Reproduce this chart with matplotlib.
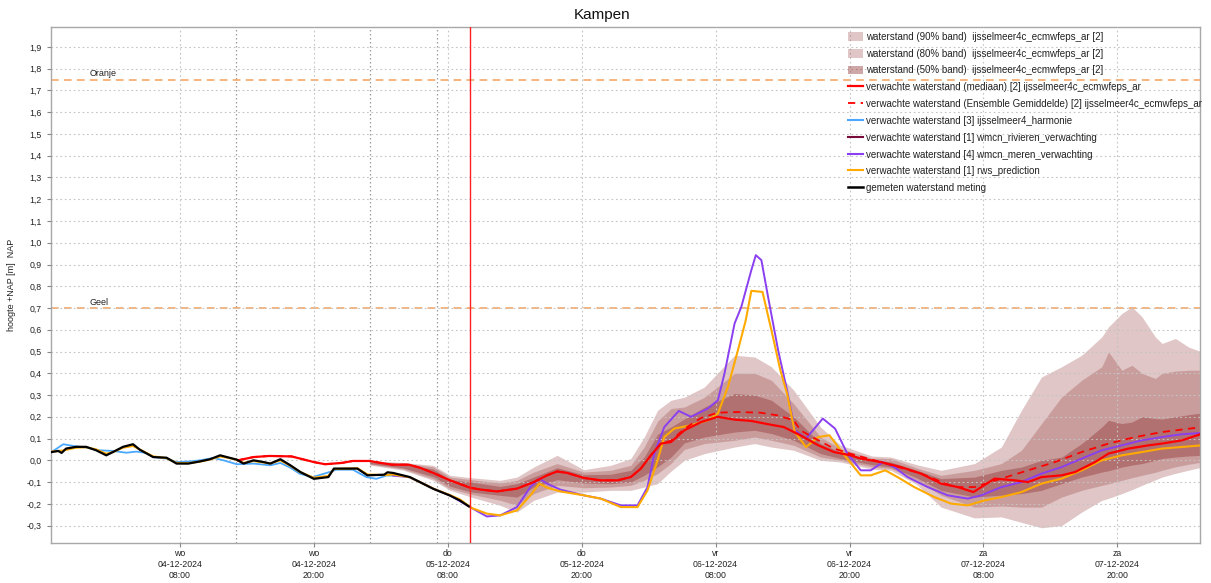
import matplotlib
matplotlib.use("Agg")
import matplotlib.pyplot as plt
from matplotlib.patches import Patch
from matplotlib.lines import Line2D
from matplotlib.ticker import FuncFormatter

plt.rcParams['font.family'] = ['Liberation Sans', 'DejaVu Sans']

# time axis: hours since 04-12-2024 08:00
x_min, x_max = -11.55, 91.4
tick_hours = [0, 12, 24, 36, 48, 60, 72, 84]
tick_labels = ["wo\n04-12-2024\n08:00", "wo\n04-12-2024\n20:00",
               "do\n05-12-2024\n08:00", "do\n05-12-2024\n20:00",
               "vr\n06-12-2024\n08:00", "vr\n06-12-2024\n20:00",
               "za\n07-12-2024\n08:00", "za\n07-12-2024\n20:00"]
now_hour = 25.97
run_hours = [5.0, 17.0, 23.0]
oranje_level = 1.75
geel_level = 0.70

# measured water level
meas_t = [-11.5, -10.9, -10.6, -10.2, -9.3, -8.4, -7.5, -6.6, -6.0, -5.1, -4.2, -3.6,
          -2.4, -1.2, -0.3, 0.75, 1.8, 2.7, 3.6, 4.5, 5.1, 5.7, 6.6, 7.5, 8.1, 9.0,
          9.9, 10.8, 12.0, 13.3, 13.8, 15.9, 16.8, 18.3, 18.6, 19.1, 20.6, 21.5,
          22.7, 24.2, 25.1, 25.9]
meas_v = [0.038, 0.043, 0.034, 0.054, 0.062, 0.062, 0.046, 0.023, 0.038, 0.062, 0.074,
          0.049, 0.015, 0.012, -0.015, -0.015, -0.005, 0.005, 0.023, 0.011, 0.003,
          -0.015, 0.0, -0.008, -0.015, 0.005, -0.023, -0.054, -0.085, -0.077, -0.038,
          -0.038, -0.069, -0.066, -0.055, -0.058, -0.077, -0.100, -0.131, -0.162,
          -0.185, -0.212]

# harmonie forecast
harm_t = [-11.5, -10.45, -9.55, -8.35, -7.2, -6.0, -4.8, -3.9, -3.0, -2.4, -1.2, -0.3,
          0.9, 1.8, 3.0, 3.9, 5.1, 6.6, 8.1, 9.0, 9.9, 10.75, 11.9, 13.4, 14.0, 15.5,
          16.7, 17.6, 18.5, 19.7]
harm_v = [0.038, 0.074, 0.066, 0.058, 0.046, 0.043, 0.035, 0.040, 0.034, 0.015, 0.008,
          -0.008, -0.005, 0.0, 0.011, 0.0, -0.018, -0.015, -0.023, -0.012, -0.034,
          -0.062, -0.077, -0.054, -0.043, -0.043, -0.077, -0.085, -0.070, -0.070]

# rws_prediction
rws_t = [-11.5, -10.5, -9.3, -8.4, -7.5, -6.6, -6.0, -5.1, -4.2, -3.6, -2.4, -1.2, -0.3,
         0.75, 1.8, 2.7, 3.6, 4.5, 5.1, 5.7, 6.6, 7.5, 8.1, 9.0, 9.9, 10.8, 12.0, 13.3,
         13.8, 15.9, 16.8, 18.3, 19.1, 20.6, 21.5, 22.7, 24.2, 25.1, 26.1, 27.5, 28.7,
         30.2, 31.4, 32.2, 32.9, 34.1, 36.2, 37.7, 39.5, 41.0, 41.9, 42.5, 42.8, 43.4,
         44.3, 45.8, 47.3, 48.2, 49.1, 50.0, 50.7, 51.2, 52.2, 53.0, 53.8, 54.4, 55.1,
         56.1, 57.2, 58.2, 59.2, 60.4, 61.0, 61.9, 63.2, 64.3, 65.8, 67.6, 69.1, 70.6,
         72.1, 73.6, 75.4, 77.2, 79.0, 80.8, 82.6, 84.4, 86.2, 88.0, 91.6]
rws_v = [0.040, 0.045, 0.058, 0.060, 0.050, 0.030, 0.038, 0.058, 0.066, 0.050, 0.018,
         0.010, -0.012, -0.013, -0.006, 0.004, 0.018, 0.010, 0.002, -0.012, -0.003,
         -0.010, -0.014, 0.0, -0.025, -0.055, -0.080, -0.072, -0.040, -0.036, -0.065,
         -0.068, -0.065, -0.078, -0.100, -0.130, -0.160, -0.180, -0.218, -0.245, -0.253,
         -0.230, -0.161, -0.107, -0.126, -0.143, -0.161, -0.176, -0.215, -0.215, -0.138,
         -0.046, 0.0, 0.107, 0.146, 0.161, 0.184, 0.215, 0.337, 0.506, 0.644, 0.779,
         0.774, 0.598, 0.414, 0.307, 0.130, 0.061, 0.107, 0.115, 0.046, -0.031, -0.069,
         -0.069, -0.046, -0.077, -0.123, -0.169, -0.199, -0.207, -0.184, -0.169, -0.146,
         -0.107, -0.084, -0.046, 0.0, 0.023, 0.038, 0.054, 0.069]

# wmcn_meren_verwachting
meren_t = [19.1, 20.6, 21.5, 22.7, 24.2, 26.1, 27.5, 28.7, 30.2, 31.4, 32.2, 32.9, 34.1,
           36.2, 37.7, 39.5, 41.0, 41.9, 42.5, 43.4, 44.7, 45.8, 47.3, 48.2, 48.8, 49.7,
           50.3, 51.2, 51.6, 52.1, 52.7, 53.6, 54.4, 55.1, 56.1, 57.6, 58.7, 59.8, 60.3,
           61.0, 61.9, 63.0, 64.0, 65.2, 67.0, 68.8, 70.6, 71.8, 73.6, 75.4, 77.2, 79.0,
           80.8, 82.6, 84.4, 86.2, 88.0, 89.8, 91.6]
meren_v = [-0.070, -0.078, -0.100, -0.130, -0.161, -0.218, -0.258, -0.253, -0.215, -0.123,
           -0.084, -0.107, -0.135, -0.161, -0.176, -0.207, -0.207, -0.123, 0.030, 0.153,
           0.227, 0.200, 0.238, 0.276, 0.400, 0.629, 0.705, 0.874, 0.943, 0.920, 0.751,
           0.506, 0.322, 0.138, 0.100, 0.192, 0.146, 0.031, 0.0, -0.046, -0.046, -0.008,
           -0.031, -0.077, -0.123, -0.161, -0.176, -0.161, -0.123, -0.100, -0.061, -0.031,
           0.008, 0.046, 0.069, 0.092, 0.107, 0.120, 0.126]

# ensemble median
med_t = [5.2, 6.6, 8.0, 10.0, 11.0, 12.0, 13.0, 14.5, 15.5, 17.0, 18.0, 19.0, 20.5, 21.5,
         22.7, 24.2, 26.0, 26.9, 28.4, 30.2, 31.7, 32.9, 33.8, 34.7, 36.2, 37.7, 39.2,
         40.4, 41.3, 42.2, 43.1, 44.0, 45.2, 46.7, 48.2, 49.7, 51.2, 52.7, 54.1, 55.6,
         57.2, 58.6, 60.1, 61.0, 62.8, 64.6, 66.4, 68.2, 69.7, 71.1, 71.8, 73.0, 74.8,
         76.0, 77.2, 79.0, 80.2, 82.0, 83.2, 85.0, 86.8, 88.0, 89.8, 91.6]
med_v = [0.0, 0.015, 0.020, 0.018, 0.005, -0.008, -0.018, -0.012, -0.003, -0.003, -0.012,
         -0.020, -0.020, -0.034, -0.058, -0.092, -0.126, -0.134, -0.143, -0.130, -0.100,
         -0.069, -0.051, -0.058, -0.081, -0.092, -0.092, -0.077, -0.038, 0.023, 0.077,
         0.084, 0.138, 0.176, 0.200, 0.187, 0.181, 0.166, 0.153, 0.115, 0.069, 0.038,
         0.023, 0.008, -0.008, -0.031, -0.061, -0.107, -0.123, -0.146, -0.123, -0.084,
         -0.092, -0.100, -0.077, -0.069, -0.054, -0.008, 0.031, 0.054, 0.069, 0.077,
         0.092, 0.123]

# ensemble mean
mean_t = [5.2, 6.6, 8.0, 10.0, 11.0, 12.0, 13.0, 14.5, 15.5, 17.0, 18.0, 19.0, 20.5, 21.5,
          22.7, 24.2, 26.0, 26.9, 28.4, 30.2, 31.7, 32.9, 33.8, 34.7, 36.2, 37.7, 39.2,
          40.4, 41.3, 42.2, 43.1, 44.0, 45.2, 46.7, 48.2, 50.0, 52.0, 53.5, 55.0, 55.6,
          57.2, 58.6, 60.1, 62.8, 66.4, 69.4, 71.2, 73.6, 76.0, 78.4, 80.8, 83.2, 85.6,
          88.0, 91.6]
mean_v = [0.0, 0.015, 0.020, 0.018, 0.005, -0.008, -0.018, -0.012, -0.003, -0.003, -0.012,
          -0.020, -0.020, -0.034, -0.058, -0.092, -0.126, -0.134, -0.143, -0.130, -0.100,
          -0.069, -0.051, -0.058, -0.081, -0.092, -0.092, -0.077, -0.038, 0.023, 0.077,
          0.090, 0.145, 0.195, 0.219, 0.222, 0.219, 0.207, 0.184, 0.138, 0.092, 0.054,
          0.030, -0.008, -0.061, -0.123, -0.123, -0.084, -0.046, -0.008, 0.038, 0.077,
          0.107, 0.130, 0.153]

# ensemble bands
band_t = [17.0, 20.0, 22.7, 24.2, 26.1, 28.7, 30.2, 31.7, 33.8, 36.2, 38.6, 40.4, 41.6,
          42.8, 44.0, 45.2, 47.0, 49.7, 51.5, 53.0, 55.0, 57.4, 59.2, 62.0, 63.7, 66.0,
          68.2, 71.2, 73.6, 75.4, 77.2, 79.0, 80.8, 82.6, 83.2, 84.4, 85.3, 86.2, 87.4,
          88.0, 89.2, 90.4, 91.6]
lo90 = [-0.022, -0.045, -0.092, -0.138, -0.169, -0.207, -0.238, -0.184, -0.146, -0.146,
        -0.138, -0.138, -0.123, -0.107, -0.050, 0.000, 0.031, 0.061, 0.077, 0.061, 0.046,
        0.000, -0.008, -0.040, -0.046, -0.110, -0.215, -0.265, -0.260, -0.285, -0.310,
        -0.300, -0.238, -0.184, -0.175, -0.153, -0.135, -0.115, -0.090, -0.077, -0.060,
        -0.045, -0.031]
lo80 = [-0.018, -0.040, -0.085, -0.130, -0.156, -0.184, -0.207, -0.153, -0.115, -0.126,
        -0.123, -0.115, -0.092, -0.061, -0.015, 0.050, 0.077, 0.092, 0.107, 0.092, 0.069,
        0.015, 0.000, -0.030, -0.038, -0.090, -0.161, -0.215, -0.210, -0.215, -0.215,
        -0.169, -0.138, -0.115, -0.108, -0.092, -0.080, -0.069, -0.055, -0.046, -0.030,
        -0.018, -0.008]
lo50 = [-0.015, -0.035, -0.075, -0.119, -0.146, -0.161, -0.169, -0.123, -0.089, -0.104,
        -0.107, -0.100, -0.069, -0.030, 0.015, 0.080, 0.107, 0.130, 0.138, 0.123, 0.092,
        0.031, 0.008, -0.020, -0.031, -0.080, -0.138, -0.169, -0.160, -0.153, -0.138,
        -0.107, -0.077, -0.054, -0.048, -0.031, -0.022, -0.015, 0.000, 0.008, 0.015,
        0.020, 0.023]
hi50 = [-0.008, -0.018, -0.040, -0.089, -0.100, -0.120, -0.107, -0.077, -0.034, -0.066,
        -0.064, -0.046, 0.015, 0.120, 0.153, 0.190, 0.245, 0.307, 0.300, 0.276, 0.200,
        0.077, 0.038, 0.000, -0.008, -0.045, -0.084, -0.077, -0.046, -0.031, 0.000,
        0.015, 0.077, 0.153, 0.184, 0.169, 0.176, 0.200, 0.192, 0.190, 0.200, 0.210,
        0.218]
hi80 = [-0.005, -0.013, -0.030, -0.077, -0.089, -0.104, -0.092, -0.054, -0.015, -0.054,
        -0.046, -0.023, 0.061, 0.180, 0.238, 0.245, 0.290, 0.400, 0.400, 0.368, 0.260,
        0.107, 0.054, 0.010, 0.008, -0.035, -0.069, -0.046, -0.015, 0.046, 0.169, 0.291,
        0.368, 0.430, 0.498, 0.414, 0.437, 0.400, 0.376, 0.400, 0.410, 0.414, 0.414]
hi90 = [-0.002, -0.010, -0.023, -0.069, -0.080, -0.092, -0.077, -0.031, 0.023, -0.043,
        -0.023, 0.008, 0.107, 0.230, 0.276, 0.290, 0.337, 0.483, 0.475, 0.430, 0.322,
        0.153, 0.069, 0.020, 0.015, -0.020, -0.046, -0.015, 0.061, 0.230, 0.383, 0.430,
        0.483, 0.567, 0.613, 0.675, 0.705, 0.660, 0.567, 0.537, 0.560, 0.520, 0.498]

# ---------------------------------------------------------------------------
band_rgb = (150 / 255, 60 / 255, 60 / 255)
a_outer, a_inner = 0.29, 0.45
c_red = '#ff0000'
c_blue = '#4aa8ff'
c_maroon = '#7a0a3a'
c_purple = '#8a3ff0'
c_orange = '#ffaa00'
c_thresh = '#f5a05a'

fig = plt.figure(figsize=(12.11, 5.83), dpi=100)
ax = fig.add_axes([51 / 1211, 40 / 583, 1149 / 1211, 516.3 / 583])
ax.set_xlim(x_min, x_max)
ax.set_ylim(-0.38, 1.993)

ax.fill_between(band_t, lo90, hi90, color=band_rgb, alpha=a_outer, lw=0, zorder=1)
ax.fill_between(band_t, lo80, hi80, color=band_rgb, alpha=a_outer, lw=0, zorder=1.1)
ax.fill_between(band_t, lo50, hi50, color=band_rgb, alpha=a_inner, lw=0, zorder=1.2)

# grid
ax.set_yticks([round(-0.3 + 0.1 * i, 1) for i in range(23)])
ax.yaxis.set_major_formatter(FuncFormatter(lambda v, p: f"{v:.1f}".replace('.', ',')))
ax.set_xticks(tick_hours)
ax.set_xticklabels(tick_labels)
ax.set_axisbelow(False)
ax.grid(True, color='#c4c4c4', linestyle=(0, (1.5, 2.5)), linewidth=0.8, zorder=1.5)
for h in run_hours:
    ax.axvline(h, color='#9a9a9a', linestyle=(0, (1.2, 2.0)), linewidth=0.9, zorder=1.5)

# thresholds
ax.axhline(oranje_level, color=c_thresh, linestyle=(0, (5, 3.5)), linewidth=1.1, zorder=2)
ax.axhline(geel_level, color=c_thresh, linestyle=(0, (5, 3.5)), linewidth=1.1, zorder=2)
ax.text(-8.1, oranje_level + 0.005, 'Oranje', fontsize=6.5, va='bottom', ha='left', color='#222222')
ax.text(-8.1, geel_level + 0.005, 'Geel', fontsize=6.5, va='bottom', ha='left', color='#222222')

ax.axvline(now_hour, color='#ff2020', linewidth=1.0, zorder=4)

ax.plot(harm_t, harm_v, color=c_blue, lw=1.3, zorder=3)
ax.plot(meren_t, meren_v, color=c_purple, lw=1.4, zorder=3.2)
ax.plot(rws_t, rws_v, color=c_orange, lw=1.5, zorder=3.3)
ax.plot(mean_t, mean_v, color=c_red, lw=1.3, linestyle=(0, (4, 3)), zorder=3.4)
ax.plot(med_t, med_v, color=c_red, lw=1.6, zorder=3.5)
ax.plot(meas_t, meas_v, color='black', lw=1.6, zorder=3.6)

for s in ax.spines.values():
    s.set_color('#a8a8a8')
    s.set_linewidth(1.0)
ax.tick_params(axis='both', colors='#888888', labelcolor='#222222', labelsize=6.3,
               length=3, width=0.8)
ax.tick_params(axis='x', pad=1)
for lab in ax.get_xticklabels():
    lab.set_linespacing(1.3)

ax.set_ylabel('hoogte +NAP [m]  NAP', fontsize=6.5, color='#222222', labelpad=8)
fig.text(0.497, 0.975, 'Kampen', ha='center', va='center', fontsize=11, color='#111111')

handles = [
    Patch(facecolor=band_rgb, alpha=a_outer, edgecolor='none'),
    Patch(facecolor=band_rgb, alpha=a_outer, edgecolor='none'),
    Patch(facecolor=band_rgb, alpha=a_inner, edgecolor='none'),
    Line2D([], [], color=c_red, lw=1.6),
    Line2D([], [], color=c_red, lw=1.3, linestyle=(0, (4, 3))),
    Line2D([], [], color=c_blue, lw=1.5),
    Line2D([], [], color=c_maroon, lw=1.5),
    Line2D([], [], color=c_purple, lw=1.5),
    Line2D([], [], color=c_orange, lw=1.5),
    Line2D([], [], color='black', lw=1.8),
]
labels = [
    'waterstand (90% band)  ijsselmeer4c_ecmwfeps_ar [2]',
    'waterstand (80% band)  ijsselmeer4c_ecmwfeps_ar [2]',
    'waterstand (50% band)  ijsselmeer4c_ecmwfeps_ar [2]',
    'verwachte waterstand (mediaan) [2] ijsselmeer4c_ecmwfeps_ar',
    'verwachte waterstand (Ensemble Gemiddelde) [2] ijsselmeer4c_ecmwfeps_ar',
    'verwachte waterstand [3] ijsselmeer4_harmonie',
    'verwachte waterstand [1] wmcn_rivieren_verwachting',
    'verwachte waterstand [4] wmcn_meren_verwachting',
    'verwachte waterstand [1] rws_prediction',
    'gemeten waterstand meting',
]
leg = ax.legend(handles, labels, loc='upper left', bbox_to_anchor=(0.6936, 0.99),
                frameon=False, fontsize=7, handlelength=1.5, handleheight=1.0,
                handletextpad=0.35, labelspacing=0.7, borderpad=0, borderaxespad=0)
leg.set_zorder(6)
for t in leg.get_texts():
    t.set_color('#222222')

fig.savefig('out.png', dpi=100)
